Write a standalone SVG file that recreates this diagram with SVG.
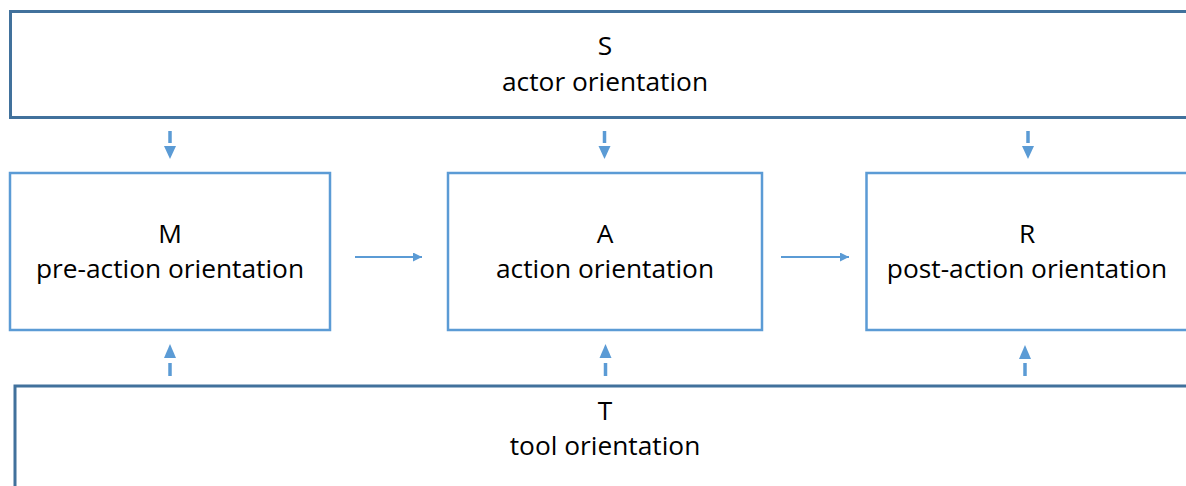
<svg xmlns="http://www.w3.org/2000/svg" width="1186" height="486" viewBox="0 0 1186 486">
  <defs>
    <style>
      .outer { fill: #ffffff; stroke: #41719C; stroke-width: 3; }
      .inner { fill: #ffffff; stroke: #5B9BD5; stroke-width: 2.5; }
      .lbl { font-family: "Open Sans", "Liberation Sans", sans-serif; font-size: 26.3px; fill: #000000; text-anchor: middle; }
      .flow { stroke: #5B9BD5; stroke-width: 2; fill: none; }
      .dash { stroke: #5B9BD5; stroke-width: 3.5; fill: none; }
      .head { fill: #5B9BD5; }
    </style>
    <marker id="ah" viewBox="0 0 10 10" refX="10" refY="5" markerWidth="5" markerHeight="4.5" orient="auto" markerUnits="strokeWidth">
      <path d="M0,0 L10,5 L0,10 Z" fill="#5B9BD5"/>
    </marker>
  </defs>

  <g id="node-S">
    <rect class="outer" x="10.5" y="11.5" width="1190" height="106"/>
    <text class="lbl" x="605" y="55">S</text>
    <text class="lbl" x="605" y="91">actor orientation</text>
  </g>

  <g id="node-M">
    <rect class="inner" x="10" y="173" width="320" height="157"/>
    <text class="lbl" x="170" y="243">M</text>
    <text class="lbl" x="170" y="278">pre-action orientation</text>
  </g>

  <g id="node-A">
    <rect class="inner" x="448" y="173" width="314" height="157"/>
    <text class="lbl" x="605" y="243">A</text>
    <text class="lbl" x="605" y="278">action orientation</text>
  </g>

  <g id="node-R">
    <rect class="inner" x="866.5" y="173" width="340" height="157"/>
    <text class="lbl" x="1027" y="243">R</text>
    <text class="lbl" x="1027" y="278">post-action orientation</text>
  </g>

  <g id="node-T">
    <rect class="outer" x="15" y="386" width="1190" height="120"/>
    <text class="lbl" x="605" y="420">T</text>
    <text class="lbl" x="605" y="455">tool orientation</text>
  </g>

  <g id="connectors">
    <line class="flow" x1="355" y1="257" x2="422" y2="257" marker-end="url(#ah)"/>
    <line class="flow" x1="781" y1="257" x2="849" y2="257" marker-end="url(#ah)"/>

    <line class="dash" x1="170" y1="131" x2="170" y2="143"/>
    <path class="head" d="M164,146 L176,146 L170,159 Z"/>
    <line class="dash" x1="604.5" y1="131" x2="604.5" y2="143"/>
    <path class="head" d="M598.5,146 L610.5,146 L604.5,159 Z"/>
    <line class="dash" x1="1028" y1="131" x2="1028" y2="143"/>
    <path class="head" d="M1022,146 L1034,146 L1028,159 Z"/>

    <line class="dash" x1="170" y1="363" x2="170" y2="376"/>
    <path class="head" d="M164,358 L176,358 L170,344 Z"/>
    <line class="dash" x1="605.5" y1="363" x2="605.5" y2="376"/>
    <path class="head" d="M599.5,358 L611.5,358 L605.5,344 Z"/>
    <line class="dash" x1="1025" y1="363" x2="1025" y2="376"/>
    <path class="head" d="M1019,359 L1031,359 L1025,345 Z"/>
  </g>
</svg>
